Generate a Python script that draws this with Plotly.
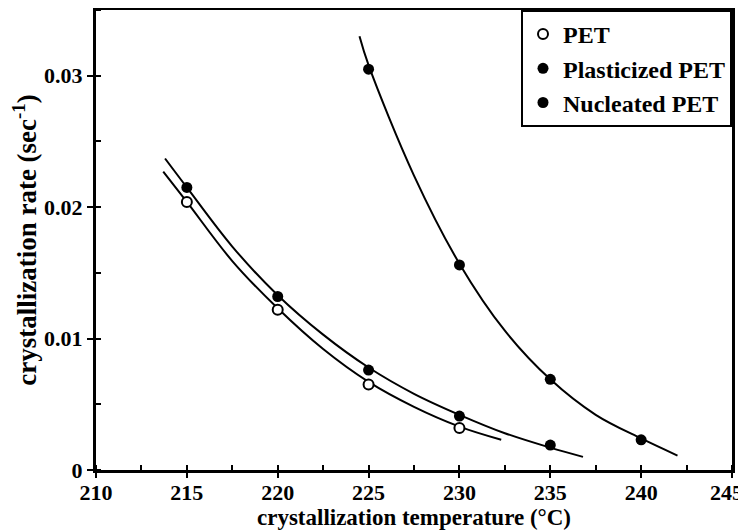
import plotly.graph_objects as go

# measured data points
pet_x = [215, 220, 225, 230]
pet_y = [0.0204, 0.0122, 0.0065, 0.0032]
plast_x = [215, 220, 225, 230, 235]
plast_y = [0.0215, 0.0132, 0.0076, 0.0041, 0.0019]
nucl_x = [225, 230, 235, 240]
nucl_y = [0.0305, 0.0156, 0.0069, 0.0023]

# fitted curves
pet_fit_x = [213.7, 215, 217.5, 220, 222.5, 225, 227.5, 230, 232.3]
pet_fit_y = [0.0227, 0.0204, 0.0159, 0.0123, 0.0092, 0.0067, 0.0048, 0.0033, 0.0023]
plast_fit_x = [213.8, 215, 217.5, 220, 222.5, 225, 227.5, 230, 232.5, 235, 236.8]
plast_fit_y = [0.0237, 0.0215, 0.0170, 0.0133, 0.0103, 0.0078, 0.0058, 0.0042, 0.0028, 0.0017, 0.0010]
nucl_fit_x = [224.5, 225, 227.5, 230, 232.5, 235, 237.5, 240, 242]
nucl_fit_y = [0.0330, 0.0308, 0.0224, 0.0157, 0.0106, 0.0069, 0.0042, 0.0024, 0.0011]

x_ticks = [210, 215, 220, 225, 230, 235, 240, 245]
x_tick_labels = ["210", "215", "220", "225", "230", "235", "240", "245\u00a0\u00a0"]
y_ticks = [0, 0.01, 0.02, 0.03]
y_tick_labels = ["0", "0.01", "0.02", "0.03"]

FONT = "Liberation Serif"
fig = go.Figure()

line_style = dict(color="black", width=2, shape="spline", smoothing=1.0)
for fx, fy in [(pet_fit_x, pet_fit_y), (plast_fit_x, plast_fit_y), (nucl_fit_x, nucl_fit_y)]:
    fig.add_trace(go.Scatter(x=fx, y=fy, mode="lines", line=line_style,
                             showlegend=False, hoverinfo="skip"))

fig.add_trace(go.Scatter(x=pet_x, y=pet_y, mode="markers", name="PET",
                         marker=dict(symbol="circle", size=10, color="white",
                                     line=dict(color="black", width=2))))
fig.add_trace(go.Scatter(x=plast_x, y=plast_y, mode="markers", name="Plasticized PET",
                         marker=dict(symbol="circle", size=11, color="black")))
fig.add_trace(go.Scatter(x=nucl_x, y=nucl_y, mode="markers", name="Nucleated PET",
                         marker=dict(symbol="circle", size=11, color="black")))

# page has an 8px body margin, so the figure is sized/offset to compensate
fig.update_layout(
    width=738, height=523,
    margin=dict(l=88, r=14, t=2, b=61, autoexpand=False),
    paper_bgcolor="white", plot_bgcolor="white",
    font=dict(family=FONT, color="black", size=20),
    showlegend=True,
    legend=dict(x=1, y=1, xanchor="right", yanchor="top",
                bordercolor="black", borderwidth=2, bgcolor="white",
                font=dict(family=FONT, size=24, color="black", weight="bold"),
                tracegroupgap=0, itemwidth=30),
)
fig.update_xaxes(
    range=[210, 245], tickvals=x_ticks, ticktext=[f"<b>{t}</b>" for t in x_tick_labels],
    showgrid=False, zeroline=False, automargin=False, ticklabeloverflow="allow",
    showline=True, linecolor="black", linewidth=3, mirror=True,
    ticks="outside", ticklen=5, tickwidth=2, tickcolor="black",
    minor=dict(ticks="inside", dtick=2.5, tick0=210, ticklen=5, tickwidth=1.5, tickcolor="black"),
    tickfont=dict(family=FONT, size=22, color="black"), ticklabelstandoff=-4,
    title=dict(text="<b>crystallization temperature (°C)</b>", font=dict(family=FONT, size=23), standoff=2),
)
fig.update_yaxes(
    range=[0, 0.035], tickvals=y_ticks, ticktext=[f"<b>{t}</b>" for t in y_tick_labels],
    showgrid=False, zeroline=False, automargin=False,
    showline=True, linecolor="black", linewidth=3, mirror=True,
    ticks="outside", ticklen=6, tickwidth=2, tickcolor="black",
    minor=dict(ticks="inside", dtick=0.005, tick0=0, ticklen=5, tickwidth=1.5, tickcolor="black"),
    tickfont=dict(family=FONT, size=22, color="black"),
    title=dict(text="<b>crystallization rate (sec<sup>-1</sup>)</b>", font=dict(family=FONT, size=27), standoff=4),
)

fig.write_html("out.html")
